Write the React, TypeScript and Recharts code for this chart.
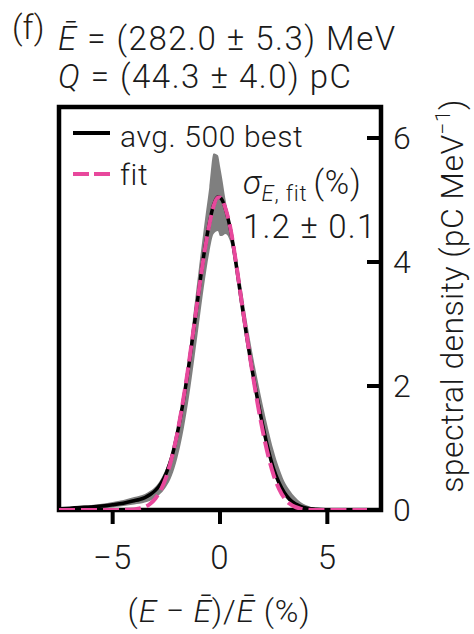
import React from 'react';
import { ComposedChart, Area, Line, XAxis, YAxis, ReferenceArea } from 'recharts';

// relative energy deviation (%) sample points
const energyDev = [
  -7.5, -7, -6.5, -6, -5.5, -5, -4.5, -4, -3.75, -3.5, -3.25, -3, -2.75, -2.5, -2.25, -2,
  -1.75, -1.5, -1.25, -1, -0.75, -0.5, -0.3, -0.1, 0, 0.1, 0.25, 0.5, 0.75, 1, 1.25, 1.5,
  1.75, 2, 2.25, 2.5, 2.75, 3, 3.25, 3.5, 3.75, 4, 4.5, 5, 5.5, 6, 6.5, 7, 7.5,
];

// average of 500 best shots (pC/MeV)
const avgBest = [
  0.02, 0.03, 0.04, 0.05, 0.065, 0.085, 0.11, 0.15, 0.17, 0.2, 0.25, 0.32, 0.43, 0.6, 0.85, 1.22,
  1.68, 2.22, 2.85, 3.5, 4.12, 4.62, 4.92, 5.05, 5.04, 5.0, 4.86, 4.5, 3.96, 3.36, 2.78, 2.25,
  1.78, 1.35, 0.97, 0.66, 0.44, 0.28, 0.17, 0.1, 0.06, 0.035, 0.012, 0.004, 0.001, 0, 0, 0, 0,
];

// gaussian fit
const fitCurve = [
  0, 0, 0, 0, 0, 0, 0.002, 0.01, 0.025, 0.05, 0.1, 0.19, 0.33, 0.54, 0.84, 1.22,
  1.7, 2.25, 2.87, 3.5, 4.1, 4.6, 4.9, 5.04, 5.04, 5.0, 4.87, 4.52, 3.98, 3.38, 2.8, 2.24,
  1.72, 1.26, 0.87, 0.56, 0.34, 0.19, 0.1, 0.05, 0.022, 0.009, 0.001, 0, 0, 0, 0, 0, 0,
];

// shot-to-shot spread (grey band)
const bandLow = [
  0, 0.005, 0.01, 0.02, 0.03, 0.045, 0.065, 0.09, 0.1, 0.12, 0.15, 0.2, 0.27, 0.38, 0.55, 0.82,
  1.2, 1.7, 2.3, 2.95, 3.6, 4.15, 4.45, 4.5, 4.42, 4.42, 4.45, 4.3, 3.85, 3.25, 2.68, 2.15,
  1.68, 1.25, 0.88, 0.58, 0.37, 0.22, 0.13, 0.07, 0.04, 0.02, 0.005, 0, 0, 0, 0, 0, 0,
];
const bandHigh = [
  0.04, 0.05, 0.07, 0.08, 0.1, 0.13, 0.16, 0.21, 0.23, 0.26, 0.31, 0.38, 0.5, 0.68, 0.93, 1.3,
  1.78, 2.36, 3.12, 3.85, 4.55, 5.2, 5.75, 5.72, 5.55, 5.35, 5.02, 4.6, 4.15, 3.6, 3.05, 2.55,
  2.1, 1.68, 1.3, 0.96, 0.68, 0.46, 0.32, 0.21, 0.13, 0.08, 0.03, 0.012, 0.004, 0, 0, 0, 0,
];

const xTicks = [-5, 0, 5];
const yTicks = [0, 2, 4, 6];

const rows = energyDev.map((x, i) => ({
  x,
  avg: avgBest[i],
  fit: fitCurve[i],
  band: [bandLow[i], bandHigh[i]],
}));

const FONT = 'Roboto, "Liberation Sans", sans-serif';
const INK = '#1a1a1a';
const PINK = '#e8489c';

const fmt = (v: number) => (v < 0 ? `\u2212${Math.abs(v)}` : `${v}`);

export default function App() {
  return (
    <div style={{ position: 'absolute', left: 0, top: 0, width: 474, height: 634, background: '#fff' }}>
      <ComposedChart width={474} height={634} data={rows} margin={{ top: 107, left: 59, right: 33, bottom: 64 }}>
        <XAxis
          dataKey="x"
          type="number"
          domain={[-7.5, 7.5]}
          ticks={xTicks}
          interval={0}
          tickFormatter={fmt}
          axisLine={false}
          tickLine={{ stroke: '#000', strokeWidth: 4 }}
          tickSize={14}
          tickMargin={22}
          tick={{ fill: INK, fontSize: 33, fontFamily: FONT, fontWeight: 300, letterSpacing: 1 }}
          height={60}
          allowDataOverflow
        />
        <YAxis
          orientation="right"
          type="number"
          domain={[0, 6.5]}
          ticks={yTicks}
          interval={0}
          axisLine={false}
          tickLine={{ stroke: '#000', strokeWidth: 4 }}
          tickSize={-14}
          tickMargin={26}
          tick={{ fill: INK, fontSize: 32, fontFamily: FONT, fontWeight: 300 }}
          width={60}
          allowDataOverflow
        />
        <Area
          type="monotone"
          dataKey="band"
          stroke="none"
          fill="#7f7f7f"
          fillOpacity={1}
          isAnimationActive={false}
        />
        <Line type="monotone" dataKey="avg" stroke="#000" strokeWidth={3.5} dot={false} isAnimationActive={false} />
        <Line
          type="monotone"
          dataKey="fit"
          stroke={PINK}
          strokeWidth={4}
          strokeDasharray="16 6"
          dot={false}
          isAnimationActive={false}
        />
        <ReferenceArea
          x1={-7.5}
          x2={7.5}
          y1={0}
          y2={6.5}
          fill="none"
          stroke="#000"
          strokeWidth={4.5}
          ifOverflow="visible"
        />
      </ComposedChart>

      <svg
        width={474}
        height={634}
        style={{ position: 'absolute', left: 0, top: 0, pointerEvents: 'none' }}
        fontFamily={FONT}
        fontWeight={300}
        fill={INK}
      >
        <text x={12} y={39} fontSize={33} fill="#2a1a10">(f)</text>
        <text x={58} y={50} fontSize={33} letterSpacing={1.5}>
          <tspan fontStyle="italic">Ē</tspan> = (282.0 ± 5.3) MeV
        </text>
        <text x={58} y={88} fontSize={33} letterSpacing={1.5}>
          <tspan fontStyle="italic">Q</tspan> = (44.3 ± 4.0) pC
        </text>

        <line x1={73} x2={110} y1={133} y2={133} stroke="#000" strokeWidth={4} />
        <text x={120} y={147} fontSize={30} letterSpacing={0.6}>avg. 500 best</text>
        <line x1={73} x2={110} y1={174} y2={174} stroke={PINK} strokeWidth={4} strokeDasharray="16 5" />
        <text x={120} y={185} fontSize={30} letterSpacing={0.6}>fit</text>

        <text x={243} y={194} fontSize={33} letterSpacing={0.8}>
          <tspan fontStyle="italic">σ</tspan>
          <tspan fontSize={22} dy={7}>
            <tspan fontStyle="italic">E</tspan>, fit
          </tspan>
          <tspan dy={-7} dx={6}>(%)</tspan>
        </text>
        <text x={243} y={238} fontSize={33} letterSpacing={1.2}>1.2 ± 0.1</text>

        <text x={219} y={622} fontSize={32} textAnchor="middle" letterSpacing={0.8}>
          (<tspan fontStyle="italic">E</tspan> − <tspan fontStyle="italic">Ē</tspan>)/<tspan fontStyle="italic">Ē</tspan> (%)
        </text>

        <text transform="translate(463, 296) rotate(-90)" fontSize={32} textAnchor="middle" letterSpacing={0.4}>
          spectral density (pC MeV<tspan fontSize={21} dy={-13}>−1</tspan>
          <tspan dy={13}>)</tspan>
        </text>
      </svg>
    </div>
  );
}
